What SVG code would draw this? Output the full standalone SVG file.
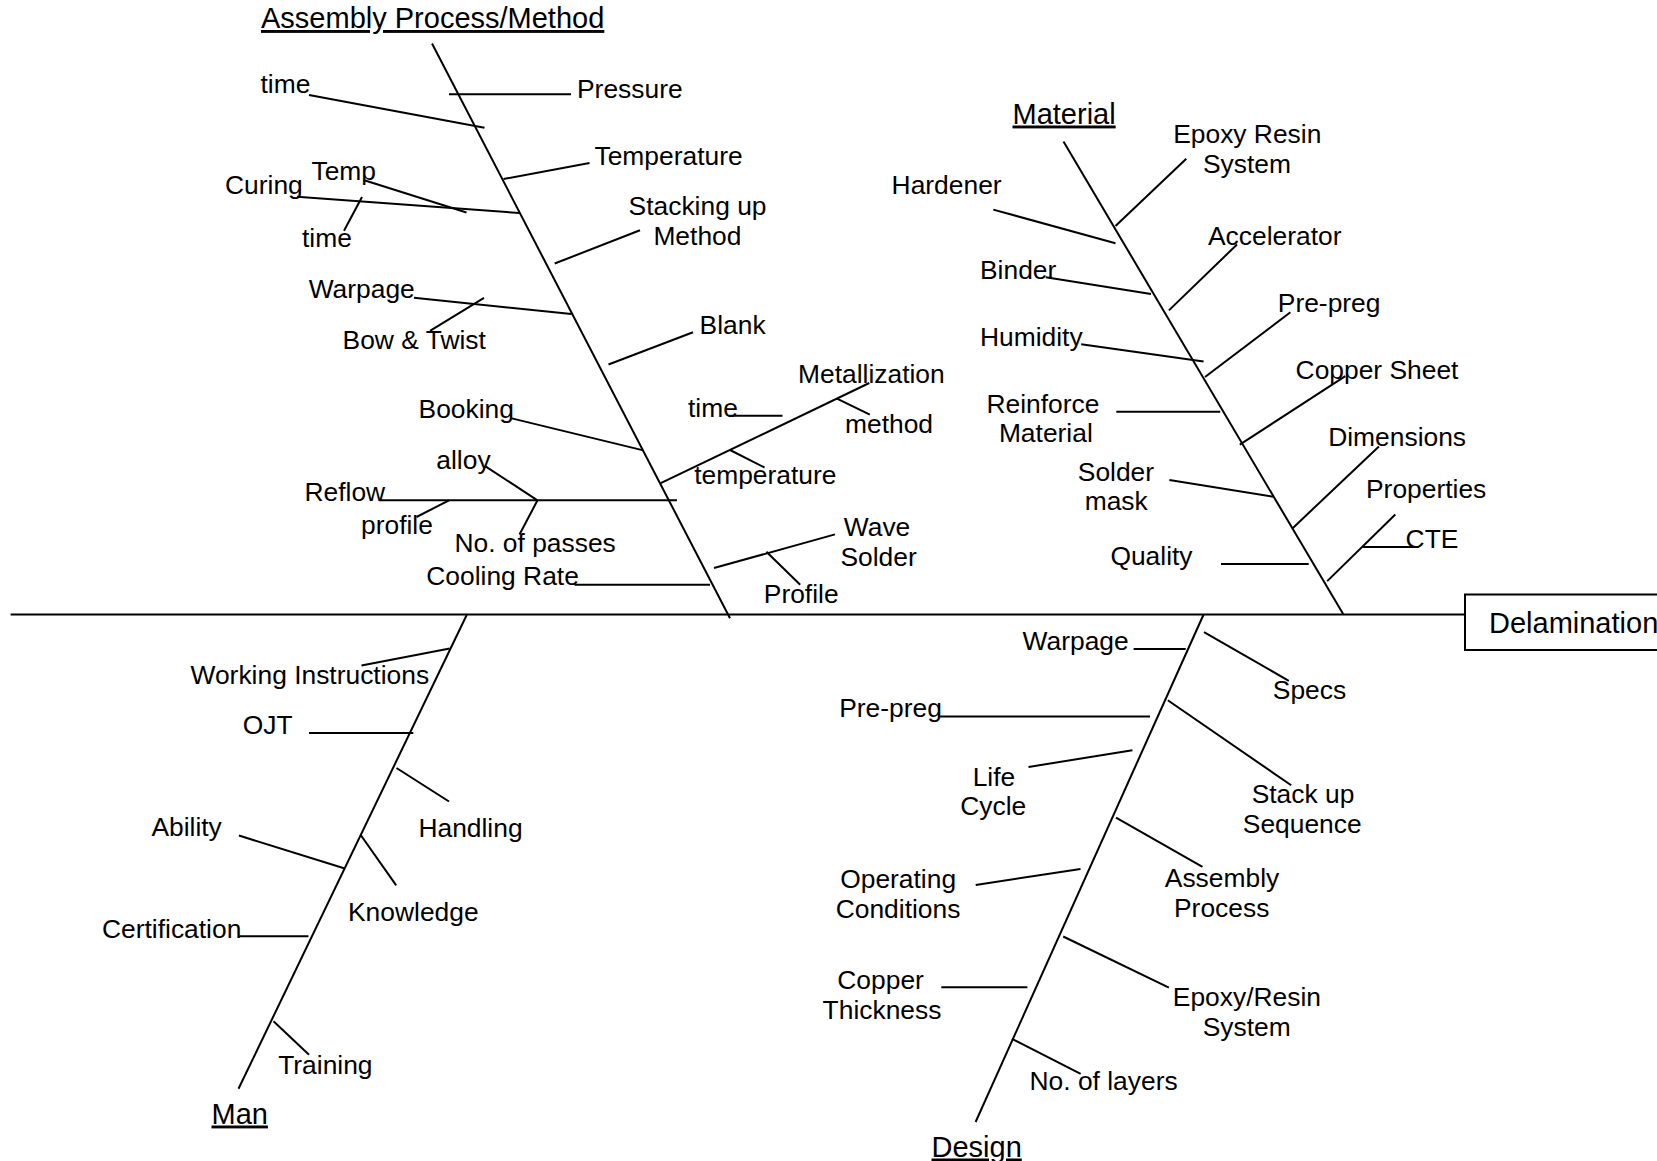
<svg xmlns="http://www.w3.org/2000/svg" width="1657" height="1161" viewBox="0 0 1657 1161">
<style>
.ln{stroke:#000;stroke-width:2;fill:none;stroke-linecap:butt}
text{font-family:"Liberation Sans",Arial,sans-serif;font-size:26.4px;fill:#000}
.tt{font-size:29px;text-decoration:underline}
.eff{font-size:29px}
.box{fill:#fff;stroke:#000;stroke-width:2}
</style>
<rect width="1657" height="1161" fill="#fff"/>
<g id="connectors">
<path class="ln" d="M10.6 614.5H1465"/>
<!-- Assembly Process/Method -->
<path class="ln" d="M432 43.5L730 618.3"/>
<path class="ln" d="M449 94.3H571"/>
<path class="ln" d="M309 95L484.5 127.8"/>
<path class="ln" d="M503.5 179L589.5 163"/>
<path class="ln" d="M297 196.7L519.5 213"/>
<path class="ln" d="M363.5 180L466.5 212.5"/>
<path class="ln" d="M362 197L344 230.7"/>
<path class="ln" d="M554.7 263.5L640 230.3"/>
<path class="ln" d="M414 297.8L571.5 314"/>
<path class="ln" d="M484 297.8L430 330.8"/>
<path class="ln" d="M608.5 364.5L693 332.3"/>
<path class="ln" d="M511.8 418.4L642.3 450.1"/>
<path class="ln" d="M660.7 483.2L869.3 383"/>
<path class="ln" d="M729 415.7H782.5"/>
<path class="ln" d="M837 398.7L869.8 414.7"/>
<path class="ln" d="M730 450L764.5 467.5"/>
<path class="ln" d="M379 500.3H677"/>
<path class="ln" d="M449 500.3L416.5 517"/>
<path class="ln" d="M537.5 500.3L485.5 466.4"/>
<path class="ln" d="M537.5 500.3L519.5 534.5"/>
<path class="ln" d="M574.5 584.7H710"/>
<path class="ln" d="M714 568L835 534.4"/>
<path class="ln" d="M766.4 551.7L800.2 584.7"/>
<!-- Material -->
<path class="ln" d="M1063.5 141.6L1343.3 614.3"/>
<path class="ln" d="M1115.5 226L1186.3 158.7"/>
<path class="ln" d="M993.3 209.6L1115.5 243.2"/>
<path class="ln" d="M1168.9 310.4L1237 244.5"/>
<path class="ln" d="M1045.8 277.3L1151 294"/>
<path class="ln" d="M1205 377L1290.4 312.3"/>
<path class="ln" d="M1081.2 344.3L1203.6 361.6"/>
<path class="ln" d="M1239.8 444.6L1345.3 376.2"/>
<path class="ln" d="M1116.3 411.7H1220.3"/>
<path class="ln" d="M1292.4 528.4L1378.9 446.4"/>
<path class="ln" d="M1169.4 480L1272.9 496.7"/>
<path class="ln" d="M1395.3 514.5L1327.2 581.1"/>
<path class="ln" d="M1362.7 547H1418.5"/>
<path class="ln" d="M1221 564H1308.7"/>
<!-- Man -->
<path class="ln" d="M466.7 615L238.5 1088.8"/>
<path class="ln" d="M361.5 665.4L449.7 648.4"/>
<path class="ln" d="M309 733H413.3"/>
<path class="ln" d="M396.5 768L449 801.5"/>
<path class="ln" d="M238.9 835.5L344.8 868.5"/>
<path class="ln" d="M360.7 835L396.2 885.3"/>
<path class="ln" d="M238.9 936.2H308.5"/>
<path class="ln" d="M273.5 1021.3L309 1054.8"/>
<!-- Design -->
<path class="ln" d="M1203.6 614.5L975.6 1122"/>
<path class="ln" d="M1133.6 649H1185.7"/>
<path class="ln" d="M1204 632.2L1288.8 680.8"/>
<path class="ln" d="M939.4 716.6H1150"/>
<path class="ln" d="M1167.8 700.2L1291.2 785.3"/>
<path class="ln" d="M1028.5 767L1132.4 750.2"/>
<path class="ln" d="M1116 817.6L1202.5 866.9"/>
<path class="ln" d="M975.7 885L1080.5 869"/>
<path class="ln" d="M1063.2 936.5L1168.9 987.7"/>
<path class="ln" d="M941.3 987.2H1027.4"/>
<path class="ln" d="M1011.9 1038.9L1080.7 1073.8"/>
</g>
<g id="effect"><rect class="box" x="1465" y="594.5" width="220" height="55.5"/><text class="eff" x="1489" y="633">Delamination</text></g>
<g id="cat-assembly"><text class="tt" x="261" y="28">Assembly Process/Method</text></g>
<g id="n-pressure"><text x="577" y="97.5">Pressure</text></g>
<g id="n-time1"><text x="260.5" y="92.5">time</text></g>
<g id="n-temperature"><text x="594.5" y="165">Temperature</text></g>
<g id="n-temp"><text x="311.5" y="180">Temp</text></g>
<g id="n-curing"><text x="225" y="194">Curing</text></g>
<g id="n-time2"><text x="302" y="246.5">time</text></g>
<g id="n-stacking"><text x="628.6" y="215">Stacking up</text><text x="653.4" y="244.5">Method</text></g>
<g id="n-warpage1"><text x="308.7" y="298">Warpage</text></g>
<g id="n-bow"><text x="342.6" y="349">Bow &amp; Twist</text></g>
<g id="n-blank"><text x="699.6" y="333.5">Blank</text></g>
<g id="n-metallization"><text x="798" y="382.5">Metallization</text></g>
<g id="n-time3"><text x="688" y="416.5">time</text></g>
<g id="n-method"><text x="845" y="432.5">method</text></g>
<g id="n-booking"><text x="418.6" y="418">Booking</text></g>
<g id="n-alloy"><text x="436.3" y="468.8">alloy</text></g>
<g id="n-temperature2"><text x="694.2" y="483.5">temperature</text></g>
<g id="n-reflow"><text x="304.5" y="501">Reflow</text></g>
<g id="n-profile1"><text x="361" y="534">profile</text></g>
<g id="n-passes"><text x="454.4" y="552">No. of passes</text></g>
<g id="n-cooling"><text x="426.3" y="585.2">Cooling Rate</text></g>
<g id="n-wave"><text x="843.8" y="535.5">Wave</text><text x="840.4" y="565.5">Solder</text></g>
<g id="n-profile2"><text x="763.8" y="602.5">Profile</text></g>
<g id="cat-material"><text class="tt" x="1012.5" y="123.5">Material</text></g>
<g id="n-epoxy1"><text x="1173.2" y="143">Epoxy Resin</text><text x="1203" y="172.5">System</text></g>
<g id="n-hardener"><text x="891.6" y="194.3">Hardener</text></g>
<g id="n-accelerator"><text x="1208" y="244.5">Accelerator</text></g>
<g id="n-binder"><text x="980" y="278.7">Binder</text></g>
<g id="n-prepreg1"><text x="1277.8" y="312.2">Pre-preg</text></g>
<g id="n-humidity"><text x="980" y="345.8">Humidity</text></g>
<g id="n-copper-sheet"><text x="1295.6" y="378.8">Copper Sheet</text></g>
<g id="n-reinforce"><text x="986.5" y="412.7">Reinforce</text><text x="998.9" y="442.2">Material</text></g>
<g id="n-dimensions"><text x="1328.2" y="446">Dimensions</text></g>
<g id="n-soldermask"><text x="1077.8" y="480.5">Solder</text><text x="1084.7" y="510.2">mask</text></g>
<g id="n-properties"><text x="1366" y="498.2">Properties</text></g>
<g id="n-cte"><text x="1405.6" y="547.5">CTE</text></g>
<g id="n-quality"><text x="1110.4" y="565.2">Quality</text></g>
<g id="cat-man"><text class="tt" x="211.5" y="1123.5">Man</text></g>
<g id="n-working"><text x="190.5" y="683.5">Working Instructions</text></g>
<g id="n-ojt"><text x="242.8" y="734.3">OJT</text></g>
<g id="n-handling"><text x="418.4" y="836.9">Handling</text></g>
<g id="n-ability"><text x="151.4" y="836">Ability</text></g>
<g id="n-knowledge"><text x="348" y="920.7">Knowledge</text></g>
<g id="n-certification"><text x="102" y="938.3">Certification</text></g>
<g id="n-training"><text x="278.2" y="1073.5">Training</text></g>
<g id="cat-design"><text class="tt" x="931.5" y="1156.5">Design</text></g>
<g id="n-warpage2"><text x="1022.6" y="650.3">Warpage</text></g>
<g id="n-specs"><text x="1272.8" y="699.3">Specs</text></g>
<g id="n-prepreg2"><text x="839.2" y="716.5">Pre-preg</text></g>
<g id="n-lifecycle"><text x="972.7" y="785.7">Life</text><text x="960.2" y="815">Cycle</text></g>
<g id="n-stackup"><text x="1251.7" y="802.8">Stack up</text><text x="1242.8" y="832.7">Sequence</text></g>
<g id="n-assembly"><text x="1164.8" y="887.3">Assembly</text><text x="1174" y="916.7">Process</text></g>
<g id="n-operating"><text x="840.2" y="887.7">Operating</text><text x="835.7" y="917.5">Conditions</text></g>
<g id="n-copper"><text x="837.3" y="989.1">Copper</text><text x="822.6" y="1018.5">Thickness</text></g>
<g id="n-epoxy2"><text x="1172.8" y="1006">Epoxy/Resin</text><text x="1202.7" y="1035.8">System</text></g>
<g id="n-layers"><text x="1029.5" y="1089.5">No. of layers</text></g>
</svg>
